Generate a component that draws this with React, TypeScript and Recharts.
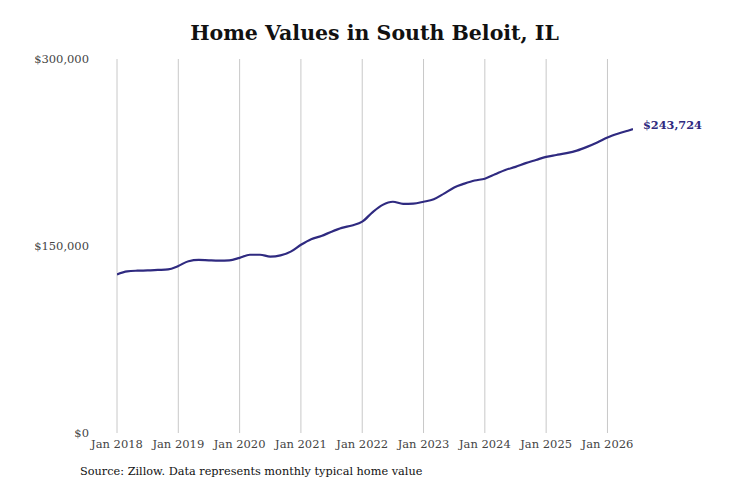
import React from "react";
import { LineChart, Line, XAxis, YAxis, CartesianGrid, LabelList } from "recharts";

// month index from Jan 2018
const months = [0,2,4,6,8,10,12,14,16,18,20,22,24,26,28,30,32,34,36,38,40,42,44,46,48,50,52,54,56,58,60,62,64,66,68,70,72,74,76,78,80,82,84,86,88,90,92,94,96,98,100,101];
const values = [127200,129600,130200,130400,130800,131200,134000,137800,138800,138500,138300,138500,140500,143000,143000,141500,142500,145500,151000,155500,158000,161500,164500,166500,169500,177000,183000,185500,183800,184000,185500,187500,192000,197000,200000,202500,204000,207500,211000,213500,216500,219000,221500,223000,224500,226500,229500,233000,237000,240000,242500,243724];
const xTicks = [0,12,24,36,48,60,72,84,96];
const yTicks = [0,150000,300000];
const xDomain = [0, 101];

const data = months.map((m, i) => ({ m, v: values[i] }));

const FONT = "'DejaVu Serif', serif";
const LINE = "#2f2a80";

const fmtMoney = (v: number) => "$" + v.toLocaleString("en-US");

const gridX = (p: any) => {
  const s = p && p.xAxis && p.xAxis.scale;
  return xTicks.map((t) => {
    if (typeof s === "function") return s(t);
    if (s && typeof s.map === "function") return s.map(t);
    const o = p.offset;
    return o.left + ((t - xDomain[0]) / (xDomain[1] - xDomain[0])) * o.width;
  });
};

const EndLabel = (props: any) => {
  const { x, y, index } = props;
  if (index !== data.length - 1) return null;
  return (
    <text x={x + 10} y={y} dy={0} fontFamily={FONT} fontWeight="bold" fontSize={11.3} fill={LINE}>
      {fmtMoney(values[values.length - 1])}
    </text>
  );
};

export default function App() {
  return (
    <div style={{ position: "absolute", left: 0, top: 0, width: 731, height: 487, background: "#fff" }}>
      <div style={{ position: "absolute", left: 0, top: 21, width: 749, textAlign: "center", fontFamily: FONT, fontWeight: "bold", fontSize: 20.5, color: "#111" }}>
        Home Values in South Beloit, IL
      </div>
      <LineChart width={731} height={487} data={data} margin={{ top: 59, right: 98, bottom: 53, left: 0 }}>
        <CartesianGrid
          horizontal={false}
          vertical={true}
          stroke="#c8c8c8"
          verticalCoordinatesGenerator={gridX}
        />
        <XAxis
          dataKey="m"
          type="number"
          domain={xDomain}
          ticks={xTicks}
          interval={0}
          axisLine={false}
          tickLine={false}
          height={1}
          tickMargin={1}
          tick={{ fontFamily: FONT, fontSize: 11.5, fill: "#444" }}
          tickFormatter={(m: number) => "Jan " + (2018 + m / 12)}
          allowDataOverflow
        />
        <YAxis
          type="number"
          domain={[0, 300000]}
          ticks={yTicks}
          interval={0}
          axisLine={false}
          tickLine={false}
          width={117}
          tickMargin={22}
          tick={{ fontFamily: FONT, fontSize: 11.5, fill: "#444" }}
          tickFormatter={(v: number) => fmtMoney(v)}
        />
        <Line type="monotone" dataKey="v" stroke={LINE} strokeWidth={2.2} dot={false} isAnimationActive={false}>
          <LabelList dataKey="v" content={EndLabel} />
        </Line>
      </LineChart>
      <div style={{ position: "absolute", left: 80, top: 465, fontFamily: FONT, fontSize: 11.3, color: "#111" }}>
        Source: Zillow. Data represents monthly typical home value
      </div>
    </div>
  );
}
